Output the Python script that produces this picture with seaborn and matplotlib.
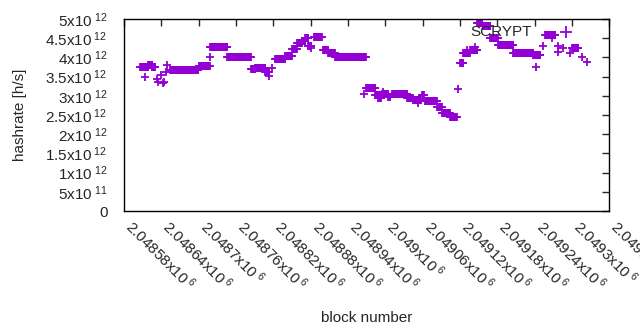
import numpy as np
import pandas as pd
import matplotlib
matplotlib.use('Agg')
import matplotlib.pyplot as plt
import seaborn as sns

# runs of blocks that share one hashrate estimate (block numbers, hashrate in 1e12 h/s)
run_start = [2048606, 2048619, 2048625, 2048614, 2048633, 2048635, 2048639, 2048643,
             2048644, 2048647, 2048649, 2048654, 2048701, 2048718, 2048718, 2048746,
             2048784, 2048791, 2048807, 2048813, 2048818, 2048823, 2048839, 2048850,
             2048858, 2048866, 2048871, 2048876, 2048881, 2048886, 2048900, 2048908,
             2048919, 2048966, 2048969, 2048984, 2048988, 2048996, 2048995, 2049005,
             2049011, 2049035, 2049045, 2049053, 2049059, 2049064, 2049083, 2049091,
             2049104, 2049117, 2049120, 2049125, 2049132, 2049136, 2049144, 2049148,
             2049157, 2049169, 2049181, 2049206, 2049238, 2049242, 2049253, 2049257,
             2049268, 2049278, 2049278, 2049286, 2049297, 2049300, 2049316, 2049324]
run_end = [2048619, 2048625, 2048630, 2048614, 2048633, 2048635, 2048639, 2048643,
           2048644, 2048647, 2048649, 2048699, 2048718, 2048718, 2048746, 2048784,
           2048791, 2048807, 2048813, 2048813, 2048818, 2048839, 2048850, 2048858,
           2048866, 2048871, 2048876, 2048881, 2048881, 2048898, 2048908, 2048919,
           2048969, 2048966, 2048984, 2048995, 2048993, 2048996, 2049005, 2049008,
           2049035, 2049045, 2049056, 2049053, 2049062, 2049083, 2049091, 2049104,
           2049115, 2049117, 2049125, 2049136, 2049132, 2049148, 2049144, 2049156,
           2049169, 2049181, 2049206, 2049238, 2049249, 2049242, 2049253, 2049273,
           2049268, 2049278, 2049278, 2049286, 2049297, 2049310, 2049316, 2049324]
run_rate = [3.74, 3.80, 3.76, 3.48, 3.43, 3.37, 3.54, 3.34,
            3.37, 3.63, 3.80, 3.66, 3.78, 4.00, 4.26, 4.02,
            3.69, 3.72, 3.61, 3.52, 3.72, 3.95, 4.04, 4.21,
            4.37, 4.43, 4.50, 4.30, 4.24, 4.52, 4.18, 4.11,
            4.00, 3.05, 3.21, 3.02, 2.93, 3.11, 3.05, 2.98,
            3.05, 2.95, 2.89, 2.82, 3.01, 2.87, 2.70, 2.56,
            2.46, 3.18, 3.86, 4.11, 4.19, 4.19, 4.26, 4.90,
            4.83, 4.50, 4.32, 4.11, 4.06, 3.76, 4.30, 4.58,
            4.50, 4.30, 4.15, 4.24, 4.11, 4.24, 4.02, 3.87]

blocks, rates = [], []
for a, b, r in zip(run_start, run_end, run_rate):
    for blk in range(a, b + 1):
        blocks.append(blk)
        rates.append(r * 1e12)
df = pd.DataFrame({'block': blocks, 'hashrate': rates})

sns.set_style('white')
plt.rcParams['font.family'] = ['Liberation Sans', 'DejaVu Sans']
plt.rcParams['mathtext.fontset'] = 'custom'
plt.rcParams['mathtext.rm'] = 'Liberation Sans'
plt.rcParams['mathtext.it'] = 'Liberation Sans'

fig = plt.figure(figsize=(6.4, 3.3), dpi=100)
ax = fig.add_axes([0.194, 0.3606, 0.758, 0.5818])

sns.scatterplot(data=df, x='block', y='hashrate', marker='+', color='#9400D3',
                s=38, linewidth=1.3, ax=ax, label='SCRYPT')

ax.set_xlim(2048580, 2049360)
ax.set_ylim(0, 5e12)
xt = np.arange(2048580, 2049361, 60)
ax.set_xticks(xt)
ax.set_xticklabels(['%gx10$^{\\ 6}$' % (v / 1e6) for v in xt], rotation=-45,
                   ha='left', va='baseline', rotation_mode='anchor', fontsize=11)

yt = np.arange(0, 5.01e12, 5e11)
ylabels = ['0']
for v in yt[1:]:
    e = int(np.floor(np.log10(v)))
    ylabels.append('%gx10$^{\\ %d}$' % (v / 10**e, e))
ax.set_yticks(yt)
ax.set_yticklabels(ylabels, fontsize=11)
ax.tick_params(direction='in', top=True, right=True, length=5, width=1)
ax.tick_params(axis='y', pad=12)
ax.tick_params(axis='x', pad=12)
for sp in ax.spines.values():
    sp.set_color('black')
    sp.set_linewidth(1)

ax.set_xlabel('block number', fontsize=11)
ax.set_ylabel('hashrate [h/s]', fontsize=11)
ax.yaxis.set_label_coords(-0.2, 0.5)
ax.xaxis.set_label_coords(0.5, -0.52)

ax.legend(loc='upper right', bbox_to_anchor=(0.942, 0.97), frameon=False,
          markerfirst=False, borderaxespad=0, borderpad=0, handletextpad=1.2,
          fontsize=11, markerscale=1.3)

fig.savefig('out.png', dpi=100)
